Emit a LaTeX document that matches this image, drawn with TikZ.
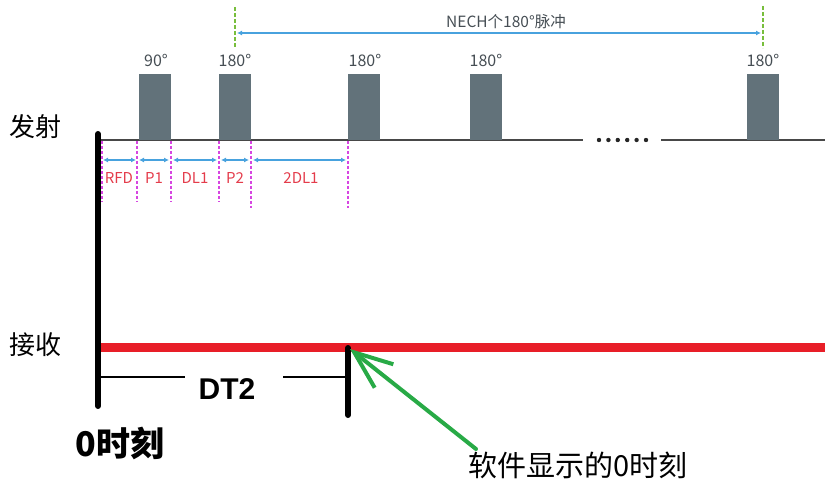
\documentclass[tikz,border=0pt]{standalone}
\usepackage{fontspec}
\setmainfont{Noto Sans CJK SC}
\newfontfamily\latfont{Liberation Sans}
\usetikzlibrary{arrows.meta}
\definecolor{pulsegray}{RGB}{98,114,122}
\definecolor{baseline}{RGB}{72,72,72}
\definecolor{dimblue}{RGB}{72,162,222}
\definecolor{dashgreen}{RGB}{120,190,60}
\definecolor{dashmag}{RGB}{215,70,225}
\definecolor{lblred}{RGB}{228,60,75}
\definecolor{rxred}{RGB}{232,30,40}
\definecolor{arrgreen}{RGB}{40,170,70}
\definecolor{txtgray}{RGB}{70,78,84}
\tikzset{
  pulse/.style={fill=pulsegray, draw=none, inner sep=0pt, minimum width=32pt, minimum height=66pt},
  plabel/.style={text=txtgray, font=\fontsize{16}{16}\selectfont, inner sep=0pt},
  seglabel/.style={text=lblred, font=\fontsize{15}{15}\selectfont, inner sep=0pt},
  biglabel/.style={font=\fontsize{26}{26}\selectfont, inner sep=0pt},
  txline/.style={draw=baseline, line width=2.5pt},
  magdash/.style={draw=dashmag, line width=1.3pt, dash pattern=on 3pt off 2pt},
  greendash/.style={draw=dashgreen, line width=1.5pt, dash pattern=on 4pt off 2pt},
  dimarrow/.style={draw=dimblue, line width=1.6pt, {Latex[length=5pt,width=5pt]}-{Latex[length=5pt,width=5pt]}},
  zerobar/.style={draw=black, line width=6pt, line cap=round},
}
\begin{document}
\begin{tikzpicture}[x=1pt,y=-1pt]
\useasboundingbox (0,0) rectangle (825,481);
% labels
\node[biglabel, anchor=west] (tx) at (9,127) {发射};
\node[biglabel, anchor=west] (rx) at (9,345) {接收};
% transmit baseline
\coordinate (t0) at (100,140);
\coordinate (t1) at (583,140);
\coordinate (t2) at (661,140);
\coordinate (t3) at (825,140);
\draw[txline] (t0) -- (t1);
\draw[txline] (t2) -- (t3);
\foreach \i in {0,...,5} { \fill[black!85] (599+\i*9.4,140) circle (2.2pt); }
% pulses
\node[pulse] (p90) at (154.5,107.5) {};
\node[pulse] (p1) at (235,107.5) {};
\node[pulse] (p2) at (364,107.5) {};
\node[pulse] (p3) at (485.5,107.5) {};
\node[pulse] (p4) at (763,107.5) {};
\node[plabel] (l90) at (156,60) {90°};
\node[plabel] (l1) at (235,60) {180°};
\node[plabel] (l2) at (365,60) {180°};
\node[plabel] (l3) at (486,60) {180°};
\node[plabel] (l4) at (763,60) {180°};
% NECH span
\coordinate (ga) at (235,7);
\coordinate (gb) at (235,48);
\coordinate (gc) at (763,6);
\coordinate (gd) at (763,48);
\draw[greendash] (ga) -- (gb);
\draw[greendash] (gc) -- (gd);
\coordinate (na) at (237,33);
\coordinate (nb) at (761,33);
\draw[dimarrow] (na) -- (nb);
\node[plabel, font=\fontsize{15.5}{15.5}\selectfont] (nech) at (506,22) {NECH个180°脉冲};
% magenta dashed markers
\foreach \n/\x/\y in {m0/102/202, m1/137/202, m2/171/202, m3/219/202, m4/251/208, m5/348/208} {
  \coordinate (\n a) at (\x,141);
  \coordinate (\n b) at (\x,\y);
  \draw[magdash] (\n a) -- (\n b);
}
% segment arrows
\foreach \a/\b in {103/136, 139/169, 173/217, 221/249, 253/346} {
  \draw[dimarrow] (\a,160) -- (\b,160);
}
\node[seglabel] (rfd) at (119,178) {RFD};
\node[seglabel] (sp1) at (154,178) {P1};
\node[seglabel] (sdl) at (195,178) {DL1};
\node[seglabel] (sp2) at (235,178) {P2};
\node[seglabel] (s2dl) at (301,178) {2DL1};
% receive line
\coordinate (r0) at (100,347);
\coordinate (r1) at (825,347);
\draw[draw=rxred, line width=9pt] (r0) -- (r1);
% zero bars
\coordinate (z0a) at (98,134);
\coordinate (z0b) at (98,406);
\draw[zerobar] (z0a) -- (z0b);
\coordinate (z1a) at (348,348);
\coordinate (z1b) at (348,415);
\draw[zerobar] (z1a) -- (z1b);
% DT2
\node[inner sep=0pt, font=\latfont\bfseries\fontsize{30}{30}\selectfont] (dt2) at (227,389) {DT2};
\coordinate (d0) at (101,377);
\coordinate (d1) at (185,377);
\coordinate (d2) at (283,377);
\coordinate (d3) at (345,377);
\draw[line width=1.3pt] (d0) -- (d1);
\draw[line width=1.3pt] (d2) -- (d3);
\node[inner sep=0pt, font=\bfseries\fontsize{34}{34}\selectfont] (zero) at (120,443) {0时刻};
% green arrow
\coordinate (ga0) at (476,449);
\coordinate (ga1) at (350,349);
\draw[draw=arrgreen, line width=4pt, line cap=round, -{Straight Barb[length=38pt,width=30pt,line width=4pt]}] (ga0) -- (ga1);
\node[inner sep=0pt, font=\fontsize{29}{29}\selectfont, anchor=west] (sw) at (468,465) {软件显示的0时刻};
\end{tikzpicture}
\end{document}
